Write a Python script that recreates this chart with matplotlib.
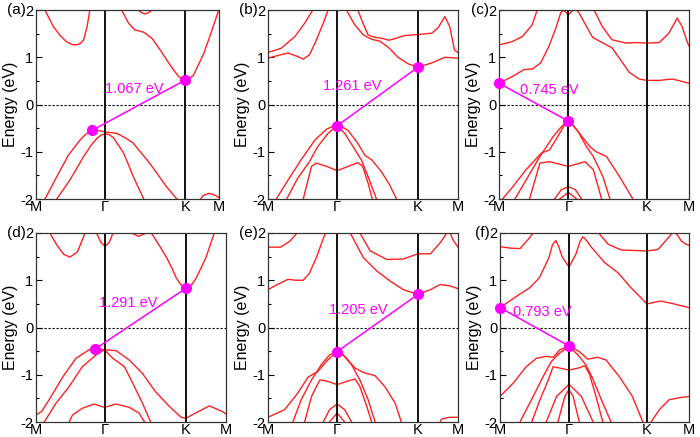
import matplotlib.pyplot as plt

plt.rcParams['font.family'] = ['Liberation Sans', 'DejaVu Sans']
plt.rcParams['axes.unicode_minus'] = False

# ---- data: k along M-G-K-M (|MG| = 1), energy in eV ----
kpath_labels = ['M', 'Γ', 'K', 'M']

# (a)
a_kticks = [0, 1, 2.16, 2.65]
a_bands = [
    ([0.08, 0.13, 0.25, 0.35, 0.44, 0.52, 0.58, 0.64, 0.69, 0.74, 0.78, 0.82],
     [2.3, 2.0, 1.65, 1.46, 1.33, 1.27, 1.26, 1.29, 1.37, 1.65, 2.0, 2.3]),
    ([1.2, 1.24, 1.34, 1.43, 1.56, 1.68, 1.8, 1.94, 2.06, 2.12, 2.16, 2.21, 2.28, 2.43, 2.55, 2.65],
     [2.2, 2.0, 1.72, 1.58, 1.53, 1.4, 1.15, 0.84, 0.6, 0.53, 0.517, 0.54, 0.62, 1.08, 1.58, 2.02]),
    ([1.45, 1.48, 1.53, 1.58, 1.63, 1.68, 1.71], [2.1, 2.0, 1.94, 1.92, 1.94, 2.0, 2.1]),
    ([0.1, 0.13, 0.3, 0.47, 0.64, 0.72, 0.81, 0.9, 1.0, 1.17, 1.31, 1.41, 1.65, 1.89, 2.04],
     [-2.2, -2.0, -1.53, -1.07, -0.75, -0.63, -0.55, -0.55, -0.58, -0.61, -0.72, -0.82, -1.25, -1.74, -2.0]),
    ([0.3, 0.49, 0.69, 0.8, 0.88, 0.94, 1.0, 1.06, 1.12, 1.27, 1.41, 1.56],
     [-2.0, -1.6, -1.1, -0.86, -0.72, -0.65, -0.62, -0.64, -0.7, -1.03, -1.53, -2.0]),
    ([2.36, 2.42, 2.5, 2.58, 2.65], [-2.05, -1.93, -1.88, -1.91, -1.97]),
]
a_gap = ([0.81, 2.16], [-0.55, 0.517])
a_gap_text = (1.43, 0.33, '1.067 eV')

# (b)
b_kticks = [0, 1, 2.17, 2.75]
b_bands = [
    ([0, 0.15, 0.29, 0.42, 0.51, 0.6, 0.68, 0.8, 0.87, 0.9], [0.98, 1.04, 1.09, 1.02, 0.96, 1.05, 1.3, 1.72, 2.0, 2.15]),
    ([0, 0.19, 0.39, 0.53, 0.65, 0.7], [1.1, 1.19, 1.44, 1.72, 2.0, 2.15]),
    ([1.1, 1.135, 1.25, 1.38, 1.5, 1.62, 1.75, 1.88, 2.03, 2.17, 2.37, 2.56, 2.75],
     [2.15, 2.0, 1.7, 1.47, 1.38, 1.34, 1.2, 1.0, 0.86, 0.79, 0.88, 1.0, 0.98]),
    ([1.27, 1.3, 1.38, 1.45, 1.55, 1.65, 1.75, 1.85, 1.98, 2.17, 2.37, 2.46, 2.56, 2.63, 2.7, 2.75],
     [2.15, 2.0, 1.7, 1.47, 1.42, 1.4, 1.36, 1.4, 1.46, 1.48, 1.51, 1.62, 1.86, 1.65, 1.15, 1.1]),
    ([0.1, 0.12, 0.29, 0.48, 0.68, 0.85, 0.93, 1.0, 1.08, 1.16, 1.3, 1.4, 1.5, 1.64, 1.76, 1.86],
     [-2.15, -2.0, -1.6, -1.17, -0.75, -0.52, -0.47, -0.45, -0.48, -0.55, -0.82, -1.07, -1.17, -1.42, -1.7, -2.0]),
    ([0.25, 0.27, 0.43, 0.6, 0.72, 0.87, 1.0, 1.11, 1.23, 1.35, 1.45, 1.57],
     [-2.1, -2.0, -1.56, -1.21, -0.89, -0.61, -0.45, -0.61, -0.89, -1.17, -1.53, -2.0]),
    ([0.5, 0.51, 0.63, 0.7, 0.85, 1.0, 1.16, 1.3, 1.37, 1.45, 1.51],
     [-2.1, -2.0, -1.31, -1.24, -1.31, -1.4, -1.31, -1.23, -1.31, -1.67, -2.0]),
]
b_gap = ([1.0, 2.17], [-0.45, 0.79])
b_gap_text = (1.22, 0.39, '1.261 eV')

# (c)
c_kticks = [0, 1, 2.13, 2.74]
c_bands = [
    ([0, 0.19, 0.36, 0.48, 0.6, 0.72, 0.82, 0.89, 0.93, 1.0, 1.07, 1.1, 1.15, 1.35, 1.5, 1.63, 1.75, 1.88, 2.02, 2.13, 2.31, 2.5, 2.74],
     [0.45, 0.59, 0.74, 0.75, 0.88, 1.23, 1.62, 1.94, 2.0, 1.9, 2.0, 2.02, 1.95, 1.42, 1.3, 1.2, 0.95, 0.68, 0.54, 0.51, 0.51, 0.54, 0.45]),
    ([0, 0.19, 0.34, 0.48, 0.55, 0.6], [1.26, 1.33, 1.44, 1.69, 2.0, 2.2]),
    ([1.3, 1.37, 1.49, 1.63, 1.83, 1.97, 2.13, 2.31, 2.45, 2.57, 2.64, 2.72, 2.74],
     [2.2, 2.0, 1.65, 1.37, 1.3, 1.31, 1.3, 1.31, 1.51, 1.83, 1.65, 1.3, 1.24]),
    ([0.0, 0.05, 0.2, 0.39, 0.61, 0.73, 0.875, 0.94, 1.0, 1.06, 1.16, 1.31, 1.4, 1.55, 1.74, 1.93],
     [-2.1, -2.0, -1.74, -1.38, -1.03, -0.96, -0.61, -0.44, -0.35, -0.42, -0.61, -0.89, -1.0, -1.1, -1.53, -2.0]),
    ([0.2, 0.23, 0.39, 0.59, 0.78, 0.9, 1.0, 1.07, 1.14, 1.26, 1.36, 1.5, 1.6],
     [-2.1, -2.0, -1.6, -1.1, -0.68, -0.47, -0.35, -0.45, -0.57, -0.89, -1.1, -1.53, -2.0]),
    ([0.42, 0.44, 0.59, 0.73, 1.0, 1.24, 1.36, 1.48], [-2.1, -2.0, -1.24, -1.21, -1.31, -1.21, -1.38, -2.0]),
    ([0.8, 0.9, 1.0, 1.1, 1.19], [-2.0, -1.8, -1.74, -1.8, -2.0]),
    ([0.875, 1.0, 1.12], [-2.0, -1.86, -2.0]),
]
c_gap = ([0, 1.0], [0.45, -0.35])
c_gap_text = (0.72, 0.31, '0.745 eV')

# (d)
d_kticks = [0, 1, 2.17, 2.75]
d_bands = [
    ([0, 0.08, 0.19, 0.39, 0.58, 0.77, 0.85, 0.99, 1.16, 1.35, 1.54, 1.73, 1.93, 2.1, 2.17, 2.31, 2.51, 2.7, 2.75],
     [-1.85, -1.78, -1.53, -1.04, -0.65, -0.47, -0.46, -0.47, -0.49, -0.69, -0.97, -1.36, -1.67, -1.9, -1.92, -1.81, -1.66, -1.78, -1.83]),
    ([0.12, 0.29, 0.48, 0.67, 0.87, 0.99, 1.11, 1.28, 1.4, 1.54, 1.66],
     [-2.0, -1.6, -1.25, -0.83, -0.58, -0.47, -0.65, -0.83, -1.18, -1.6, -2.0]),
    ([0.48, 0.53, 0.67, 0.84, 0.99, 1.16, 1.35, 1.49, 1.57],
     [-2.0, -1.85, -1.71, -1.62, -1.69, -1.62, -1.69, -1.81, -2.0]),
    ([1.63, 1.67, 1.8, 1.89, 1.97, 2.03, 2.1, 2.17, 2.25, 2.32, 2.46, 2.58, 2.62],
     [2.2, 2.0, 1.7, 1.48, 1.25, 1.05, 0.9, 0.83, 0.9, 1.05, 1.48, 2.0, 2.2]),
    ([0.15, 0.2, 0.3, 0.4, 0.49, 0.6, 0.71, 0.76], [2.2, 2.0, 1.75, 1.55, 1.49, 1.6, 2.0, 2.2]),
    ([0.85, 0.875, 0.94, 1.0, 1.06, 1.115, 1.14], [2.1, 2.0, 1.8, 1.72, 1.8, 2.0, 2.1]),
    ([1.35, 1.38, 1.48, 1.6, 1.63], [2.05, 2.0, 1.93, 2.0, 2.05]),
]
d_gap = ([0.85, 2.17], [-0.46, 0.83])
d_gap_text = (1.33, 0.52, '1.291 eV')

# (e)
e_kticks = [0, 1, 2.17, 2.75]
e_bands = [
    ([0, 0.24, 0.43, 0.58, 0.72, 0.87, 1.0, 1.11, 1.26, 1.38, 1.55, 1.69, 1.84, 1.93],
     [-1.9, -1.74, -1.39, -1.05, -0.93, -0.68, -0.51, -0.61, -0.86, -0.95, -1.02, -1.25, -1.6, -2.0]),
    ([0.36, 0.48, 0.63, 0.77, 0.89, 1.0, 1.09, 1.21, 1.33, 1.45, 1.55],
     [-2.0, -1.53, -1.11, -0.79, -0.58, -0.51, -0.58, -0.79, -1.11, -1.53, -2.0]),
    ([0.53, 0.63, 0.75, 0.87, 1.0, 1.14, 1.26, 1.33, 1.43, 1.5],
     [-2.0, -1.46, -1.11, -1.14, -1.21, -1.14, -1.09, -1.25, -1.67, -2.0]),
    ([0.8, 0.89, 1.0, 1.11, 1.21], [-2.0, -1.74, -1.62, -1.74, -2.0]),
    ([0.89, 1.0, 1.11], [-2.0, -1.81, -2.0]),
    ([2.48, 2.51, 2.63, 2.75], [-2.05, -1.94, -1.9, -1.9]),
    ([0, 0.15, 0.29, 0.4, 0.51, 0.6, 0.7, 0.83, 0.87], [0.8, 0.92, 1.02, 1.0, 1.0, 1.15, 1.48, 2.0, 2.2]),
    ([0, 0.18, 0.32, 0.42, 0.47], [1.7, 1.7, 1.83, 2.0, 2.15]),
    ([1.15, 1.19, 1.38, 1.58, 1.77, 1.96, 2.17, 2.35, 2.49, 2.64, 2.75],
     [2.15, 2.0, 1.48, 1.19, 0.98, 0.8, 0.70, 0.8, 0.91, 0.88, 0.82]),
    ([1.3, 1.33, 1.48, 1.72, 1.96, 2.17, 2.35, 2.49, 2.59, 2.63],
     [2.15, 2.0, 1.62, 1.44, 1.45, 1.56, 1.56, 1.79, 2.0, 2.15]),
    ([2.62, 2.68, 2.75], [2.05, 1.85, 1.7]),
]
e_gap = ([1.0, 2.17], [-0.51, 0.70])
e_gap_text = (1.3, 0.38, '1.205 eV')

# (f)
f_kticks = [0, 1, 2.13, 2.74]
f_bands = [
    ([0, 0.19, 0.38, 0.53, 0.67, 0.77, 0.87, 1.0, 1.15, 1.27, 1.42, 1.54, 1.73, 1.92, 2.07],
     [-1.46, -1.18, -0.83, -0.65, -0.61, -0.63, -0.47, -0.39, -0.51, -0.67, -0.63, -0.69, -1.04, -1.46, -2.0]),
    ([0.29, 0.48, 0.625, 0.745, 0.865, 1.0, 1.13, 1.25, 1.35, 1.47, 1.61],
     [-2.0, -1.46, -1.04, -0.72, -0.54, -0.4, -0.58, -0.8, -1.1, -1.53, -2.0]),
    ([0.46, 0.58, 0.7, 0.77, 0.87, 1.0, 1.13, 1.23, 1.3, 1.4, 1.49],
     [-2.0, -1.53, -1.11, -0.83, -0.86, -0.9, -0.86, -0.81, -1.0, -1.5, -2.0]),
    ([0.67, 0.82, 1.0, 1.18, 1.35], [-2.0, -1.46, -1.2, -1.46, -2.0]),
    ([0.84, 0.94, 1.0, 1.06, 1.15], [-2.0, -1.46, -1.31, -1.46, -2.0]),
    ([2.19, 2.31, 2.45, 2.62, 2.74], [-2.0, -1.74, -1.53, -1.48, -1.46]),
    ([0, 0.24, 0.43, 0.57, 0.71, 0.76, 0.81, 0.85, 0.9, 1.0, 1.1, 1.16, 1.2, 1.25, 1.33, 1.52, 1.71, 1.9, 2.13, 2.33, 2.52, 2.74],
     [0.42, 0.66, 0.84, 1.05, 1.48, 1.75, 1.84, 1.72, 1.5, 1.28, 1.55, 1.82, 1.92, 1.85, 1.69, 1.37, 1.16, 0.84, 0.5, 0.56, 0.5, 0.42]),
    ([0, 0.15, 0.29, 0.43, 0.48, 0.52], [1.71, 1.68, 1.67, 1.9, 2.0, 2.1]),
    ([1.4, 1.43, 1.57, 1.76, 2.13, 2.29, 2.5, 2.53], [2.1, 2.0, 1.76, 1.64, 1.62, 1.65, 2.0, 2.1]),
    ([2.52, 2.55, 2.63, 2.7, 2.74], [2.1, 2.0, 1.83, 1.76, 1.74]),
]
f_gap = ([0, 1.0], [0.42, -0.39])
f_gap_text = (0.62, 0.32, '0.793 eV')

panel_names = ['(a)', '(b)', '(c)', '(d)', '(e)', '(f)']

# axes boxes in pixels (left, top, right, bottom) on a 700x437 canvas
boxes = [(36, 10, 219, 199), (268, 10, 458, 199), (499, 10, 689, 199),
         (36, 233, 226, 422), (268, 233, 458, 422), (500, 233, 689, 422)]

panels = [
    (a_kticks, a_bands, a_gap, a_gap_text),
    (b_kticks, b_bands, b_gap, b_gap_text),
    (c_kticks, c_bands, c_gap, c_gap_text),
    (d_kticks, d_bands, d_gap, d_gap_text),
    (e_kticks, e_bands, e_gap, e_gap_text),
    (f_kticks, f_bands, f_gap, f_gap_text),
]

W, H = 700, 437
fig = plt.figure(figsize=(7, 4.37), dpi=100)

for name, box, (kticks, bands, gap, gap_text) in zip(panel_names, boxes, panels):
    l, t, r, b = box
    ax = fig.add_axes([l / W, 1 - b / H, (r - l) / W, (b - t) / H])

    for k, e in bands:
        ax.plot(k, e, color='#ff2020', lw=1.0, solid_joinstyle='round')

    for kv in kticks[1:3]:
        ax.axvline(kv, color='black', lw=1.3)
    ax.axhline(0, color='black', lw=0.8, ls=(0, (2, 1.6)))

    ax.plot(gap[0], gap[1], color='#ff00ff', lw=1.1, marker='o', ms=7,
            clip_on=False, zorder=5)
    ax.text(gap_text[0], gap_text[1], gap_text[2], color='#ff00ff',
            fontsize=10.5, ha='center', va='center')

    ax.set_xlim(kticks[0], kticks[-1])
    ax.set_ylim(-2, 2)
    ax.set_xticks(kticks, kpath_labels)
    ax.set_yticks([-2, -1, 0, 1, 2])
    ax.set_yticks([-1.5, -0.5, 0.5, 1.5], minor=True)
    ax.tick_params(axis='x', length=0, pad=0.5, labelsize=10.5)
    ax.tick_params(axis='y', which='major', direction='in', length=4, width=0.8,
                   pad=2, labelsize=10.5)
    ax.tick_params(axis='y', which='minor', direction='in', length=2.5, width=0.8)
    for sp in ax.spines.values():
        sp.set_linewidth(0.9)
        sp.set_color('#333333')
    ax.set_ylabel('Energy (eV)', fontsize=11.5, labelpad=1.5)

    fig.text((l - 10) / W, 1 - t / H, name, fontsize=11, ha='right', va='center')

fig.savefig('out.png', dpi=100)
